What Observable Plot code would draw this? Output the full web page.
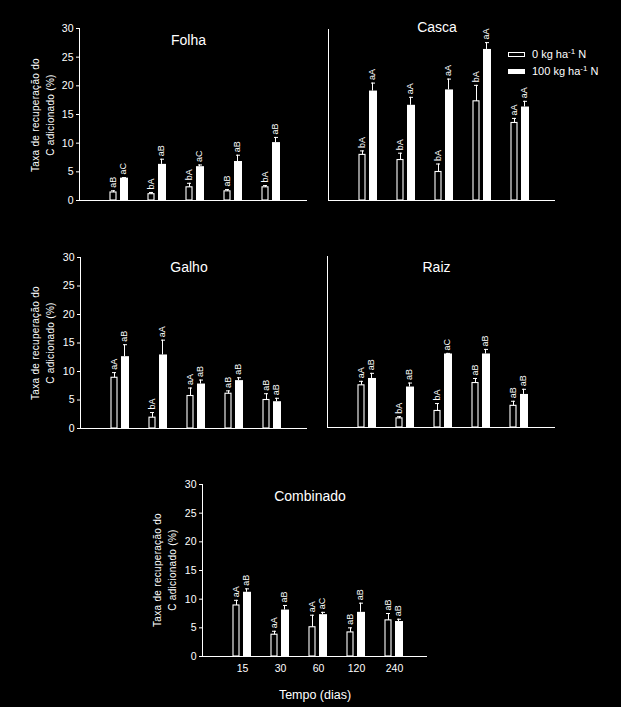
<!DOCTYPE html>
<html>
<head>
<meta charset="utf-8">
<script src="https://cdn.jsdelivr.net/npm/d3@7"></script>
<script src="https://cdn.jsdelivr.net/npm/@observablehq/plot@0.6"></script>
<style>
  html, body { margin: 0; padding: 0; background: #000; }
  #root { position: relative; width: 621px; height: 707px; background: #000; overflow: hidden;
          font-family: "Liberation Sans", Arial, sans-serif; color: #fff; font-weight: normal; }
  .panel { position: absolute; }
  .ylab { position: absolute; width: 160px; text-align: center; font-size: 10px; line-height: 15px; letter-spacing: 0.3px;
          color: #fff; transform: translate(-50%, -50%) rotate(-90deg); white-space: nowrap; }
  .legend { position: absolute; font-size: 11px; color: #fff; white-space: nowrap; }
  .legend sup { font-size: 8px; vertical-align: 4px; }
  .sw { position: absolute; width: 17px; height: 5px; box-sizing: border-box; }
</style>
</head>
<body>
<div id="root"></div>
<script>
// ---- data ----
const times = ["15", "30", "60", "120", "240"];
const yTicks = [0, 5, 10, 15, 20, 25, 30];

const folha0 = [1.4, 1.1, 2.3, 1.6, 2.3];
const folha0se = [0.3, 0.3, 0.7, 0.3, 0.3];
const folha100 = [3.9, 6.3, 5.9, 6.8, 10.1];
const folha100se = [0.1, 0.9, 0.3, 1.1, 0.9];
const folha0lab = ["aB", "bA", "bA", "aB", "bA"];
const folha100lab = ["aC", "aB", "aC", "aB", "aB"];

const casca0 = [8.0, 7.1, 5.0, 17.4, 13.6];
const casca0se = [0.7, 1.2, 1.4, 2.8, 0.8];
const casca100 = [19.2, 16.7, 19.4, 26.5, 16.4];
const casca100se = [1.4, 1.4, 1.9, 1.2, 1.0];
const casca0lab = ["bA", "bA", "bA", "bA", "aA"];
const casca100lab = ["aA", "aA", "aA", "aA", "aA"];

const galho0 = [8.9, 1.9, 5.7, 6.1, 5.0];
const galho0se = [0.9, 0.9, 1.4, 0.5, 1.1];
const galho100 = [12.6, 12.9, 7.8, 8.4, 4.7];
const galho100se = [2.1, 2.6, 0.7, 0.5, 0.6];
const galho0lab = ["aA", "bA", "aA", "aB", "aB"];
const galho100lab = ["aB", "aA", "aB", "aB", "aB"];

const raiz0 = [7.4, 1.6, 2.9, 7.8, 3.8];
const raiz0se = [0.7, 0.3, 1.3, 0.8, 0.8];
const raiz100 = [8.6, 7.1, 12.9, 12.9, 5.8];
const raiz100se = [0.9, 0.7, 0.1, 0.8, 0.9];
const raiz0lab = ["aA", "bA", "bA", "aB", "aB"];
const raiz100lab = ["aB", "aB", "aC", "aB", "aB"];

const comb0 = [8.9, 3.8, 5.1, 4.2, 6.3];
const comb0se = [0.9, 0.6, 2.1, 0.8, 1.2];
const comb100 = [11.2, 8.1, 7.3, 7.7, 6.1];
const comb100se = [0.6, 0.8, 0.4, 1.6, 0.4];
const comb0lab = ["aA", "aA", "aA", "aB", "aB"];
const comb100lab = ["aB", "aB", "aC", "aB", "aB"];

const yLabelLines = ["Taxa de recuperação do", "C adicionado (%)"];
const xLabel = "Tempo (dias)";

// ---- helpers ----
const root = document.getElementById("root");
const FONT = "'Liberation Sans', Arial, sans-serif";

function rows(means, ses, labs) {
  return times.map((t, i) => ({time: t, mean: means[i], top: means[i] + ses[i], lab: labs[i]}));
}

function panel(cfg) {
  const d0 = rows(cfg.m0, cfg.s0, cfg.l0);
  const d1 = rows(cfg.m1, cfg.s1, cfg.l1);
  const axisX = cfg.marginLeft;
  const marks = [
    Plot.frame({anchor: "left", stroke: "#fff", strokeWidth: 1}),
    Plot.ruleY([0], {stroke: "#fff", strokeWidth: 1}),
    // 0 kg (open bars)
    Plot.barY(d0, {x: "time", y: "mean", fill: "#000", stroke: "#fff", strokeWidth: 1.1, insetLeft: 10, insetRight: 22}),
    Plot.ruleX(d0, {x: "time", y1: "mean", y2: "top", stroke: "#fff", strokeWidth: 1, dx: -6}),
    Plot.tickY(d0, {x: "time", y: "top", stroke: "#fff", strokeWidth: 1, insetLeft: 11, insetRight: 23}),
    Plot.text(d0, {x: "time", y: "top", text: "lab", rotate: -90, textAnchor: "start", dx: -6, dy: -3, fill: "#fff", fontSize: 9}),
    // 100 kg (filled bars)
    Plot.barY(d1, {x: "time", y: "mean", fill: "#fff", insetLeft: 20, insetRight: 10}),
    Plot.ruleX(d1, {x: "time", y1: "mean", y2: "top", stroke: "#fff", strokeWidth: 1, dx: 4}),
    Plot.tickY(d1, {x: "time", y: "top", stroke: "#fff", strokeWidth: 1, insetLeft: 22, insetRight: 12}),
    Plot.text(d1, {x: "time", y: "top", text: "lab", rotate: -90, textAnchor: "start", dx: 4, dy: -3, fill: "#fff", fontSize: 9}),
    // title
    Plot.text([cfg.title], {frameAnchor: "top", text: d => d, dx: -5, dy: cfg.titleDy, fill: "#fff", fontSize: 14, fontWeight: "normal", lineAnchor: "middle"})
  ];
  if (cfg.yAxis) {
    marks.push(Plot.axisY({ticks: yTicks, tickSize: 3, tickPadding: 3, fontSize: 10.5, stroke: "#fff", fill: "#fff", label: null}));
  }
  if (cfg.xAxis) {
    marks.push(Plot.axisX({tickSize: 0, tickPadding: 8, fontSize: 10.5, fill: "#fff", label: null}));
  }
  const chart = Plot.plot({
    width: cfg.width,
    height: cfg.height,
    marginLeft: cfg.marginLeft,
    marginRight: cfg.marginRight,
    marginTop: cfg.marginTop,
    marginBottom: cfg.marginBottom,
    style: {background: "transparent", color: "#fff", fontFamily: FONT},
    x: {type: "band", domain: times, range: [axisX + 21, axisX + 211], padding: 0, axis: null},
    y: {domain: [0, 30], axis: null},
    marks
  });
  chart.classList.add("panel");
  chart.style.left = cfg.left + "px";
  chart.style.top = cfg.top + "px";
  chart.style.position = "absolute";
  root.appendChild(chart);
}

function ylab(cx, cy) {
  const d = document.createElement("div");
  d.className = "ylab";
  d.style.left = cx + "px";
  d.style.top = cy + "px";
  d.innerHTML = yLabelLines.join("<br>");
  root.appendChild(d);
}

// ---- panels ----
panel({title: "Folha", left: 0, top: 0, width: 310, height: 205, marginLeft: 79, marginRight: 3, marginTop: 28, marginBottom: 5,
  m0: folha0, s0: folha0se, l0: folha0lab, m1: folha100, s1: folha100se, l1: folha100lab, yAxis: true, titleDy: 12});
panel({title: "Casca", left: 310, top: 0, width: 250, height: 205, marginLeft: 18, marginRight: 5, marginTop: 29, marginBottom: 5,
  m0: casca0, s0: casca0se, l0: casca0lab, m1: casca100, s1: casca100se, l1: casca100lab, yAxis: false, titleDy: -2});
panel({title: "Galho", left: 0, top: 245, width: 310, height: 188, marginLeft: 80, marginRight: 3, marginTop: 12, marginBottom: 5,
  m0: galho0, s0: galho0se, l0: galho0lab, m1: galho100, s1: galho100se, l1: galho100lab, yAxis: true, titleDy: 10});
panel({title: "Raiz", left: 310, top: 245, width: 250, height: 187, marginLeft: 17, marginRight: 5, marginTop: 11, marginBottom: 5,
  m0: raiz0, s0: raiz0se, l0: raiz0lab, m1: raiz100, s1: raiz100se, l1: raiz100lab, yAxis: false, titleDy: 11});
panel({title: "Combinado", left: 140, top: 475, width: 295, height: 232, marginLeft: 62, marginRight: 8, marginTop: 9, marginBottom: 51,
  m0: comb0, s0: comb0se, l0: comb0lab, m1: comb100, s1: comb100se, l1: comb100lab, yAxis: true, xAxis: true, titleDy: 12});

ylab(43, 115);
ylab(43, 343);
ylab(165, 570);

// x label
const xl = document.createElement("div");
xl.className = "legend";
xl.style.fontSize = "12.5px";
xl.style.left = "315px";
xl.style.top = "695px";
xl.style.transform = "translate(-50%, -50%)";
xl.textContent = xLabel;
root.appendChild(xl);

// legend
const legendItems = [
  {dose: "0", fill: "#000"},
  {dose: "100", fill: "#fff"}
];
legendItems.forEach((it, i) => {
  const sw = document.createElement("div");
  sw.className = "sw";
  sw.style.left = "508px";
  sw.style.top = (52 + i * 17) + "px";
  sw.style.background = it.fill;
  sw.style.border = "1px solid #fff";
  root.appendChild(sw);
  const t = document.createElement("div");
  t.className = "legend";
  t.style.left = "532px";
  t.style.top = (47 + i * 17) + "px";
  t.innerHTML = it.dose + " kg ha<sup>-1</sup> N";
  root.appendChild(t);
});
</script>
</body>
</html>
